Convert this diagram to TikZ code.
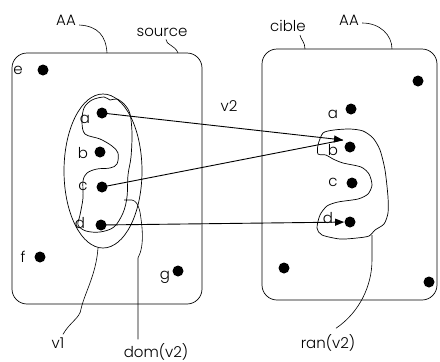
\documentclass[tikz,border=0pt]{standalone}
\usepackage{fontspec}
\setmainfont{Poppins}[UprightFont=* Light]
\usetikzlibrary{arrows.meta,calc}
\begin{document}
\begin{tikzpicture}[x=1pt,y=-1pt,
  line width=0.7pt,
  setbox/.style={draw, rounded corners=15pt, inner sep=0pt},
  dot/.style={circle, fill=black, inner sep=0pt, minimum size=11pt},
  lbl/.style={font=\fontsize{15}{18}\selectfont, inner sep=1pt},
  lead/.style={line width=0.6pt},
  arr/.style={line width=0.9pt, -{Triangle[length=9pt,width=7pt]}}]
\useasboundingbox (0,0) rectangle (440,362);

% the two sets
\node[setbox, minimum width=190pt, minimum height=251pt] (src) at (107,178.5) {};
\node[setbox, minimum width=175pt, minimum height=251pt] (tgt) at (349.5,174.5) {};

% set titles and their leaders
\node[lbl] (aaL) at (66,20) {AA};
\node[lbl] (srcT) at (162,32) {source};
\node[lbl] (cibT) at (288,26) {cible};
\node[lbl] (aaR) at (349,20) {AA};
\coordinate (aaLend) at (107,53);
\coordinate (srcTend) at (178,53);
\coordinate (cibTend) at (305,49);
\coordinate (aaRend) at (392,49);
\draw[lead] (aaL.east) ++(2,5) .. controls (98,26) and (106,36) .. (aaLend);
\draw[lead] (srcT.south) ++(4,2) .. controls (166,45) and (175,45) .. (srcTend);
\draw[lead] (cibT.south) ++(12,2) .. controls (301,40) and (305,42) .. (cibTend);
\draw[lead] (aaR.east) ++(2,3) .. controls (380,23) and (392,35) .. (aaRend);

\node[lbl] (v2) at (229,106) {v2};

% elements of the source
\node[dot] (le) at (43,70) {};
\node[lbl] at (18,70) {e};
\node[dot] (la) at (102,113) {};
\node[lbl] at (85,119) {a};
\node[dot] (lb) at (100,152) {};
\node[lbl] at (83,153) {b};
\node[dot] (lc) at (102,187) {};
\node[lbl] at (83,186) {c};
\node[dot] (ld) at (101,225) {};
\node[lbl] at (80,223) {d};
\node[dot] (lf) at (40,257) {};
\node[lbl] at (23,257) {f};
\node[dot] (lg) at (178,271) {};
\node[lbl] at (165,277) {g};

% elements of the target
\node[dot] (rt) at (418,81) {};
\node[dot] (ra) at (351,109) {};
\node[lbl] at (333,114) {a};
\node[dot] (rb) at (350,147) {};
\node[lbl] at (333,150) {b};
\node[dot] (rc) at (352,183) {};
\node[lbl] at (333,182) {c};
\node[dot] (rd) at (350,222) {};
\node[lbl] at (328,218) {d};
\node[dot] (rl) at (284,268) {};
\node[dot] (rr) at (429,282) {};

% v1 as an ellipse around a..d
\draw (103,171) ellipse [x radius=39, y radius=77];

% dom(v2)
\draw plot[smooth cycle, tension=0.55] coordinates {
  (104,97) (110,100) (117,99) (125,105) (130,114) (132,133) (131,157) (128,175)
  (127,197) (123,213) (114,227) (100,232) (86,231) (78,225) (80,215) (83,198)
  (83,181) (87,173) (97,169) (110,168) (117,164) (118,153) (112,146) (100,139)
  (85,134) (82,122) (84,108) (92,100)};

% ran(v2)
\draw plot[smooth cycle, tension=0.45] coordinates {
  (323,133) (334,130) (350,129) (363,131) (373,138) (380,150) (385,170)
  (388,197) (388,213) (384,224) (375,230) (369,236) (357,238) (340,239)
  (322,235) (317,228) (320,215) (327,206) (338,202) (358,199) (368,194)
  (372,185) (369,174) (361,167) (343,163) (333,159) (326,155) (318,154)
  (318,145)};

% the relation v2
\coordinate (tipb) at (343,140);
\draw[arr] (la.center) -- (tipb);
\draw[line width=0.9pt] (lc.center) -- (tipb);
\draw[arr] (ld.center) -- (rd);

% bottom labels and leaders
\node[lbl] (v1) at (58,343) {v1};
\node[lbl] (dom) at (156,352) {dom(v2)};
\node[lbl] (ran) at (328,343) {ran(v2)};
\coordinate (v1end) at (98,248);
\coordinate (domend) at (124,200);
\coordinate (ranend) at (372,235);
\draw[lead] (v1.north) ++(5,-2) .. controls (70,322) and (80,318) .. (81,309)
  .. controls (85,292) and (96,275) .. (v1end);
\draw[lead] (dom.north) ++(-18,-3) -- (138,258)
  .. controls (145,245) and (142,225) .. (140,212)
  .. controls (138,204) and (136,201) .. (132,200) -- (domend);
\draw[lead] (ran.north) ++(8,-5) .. controls (360,312) and (372,285) .. (372,260) -- (ranend);
\end{tikzpicture}
\end{document}
